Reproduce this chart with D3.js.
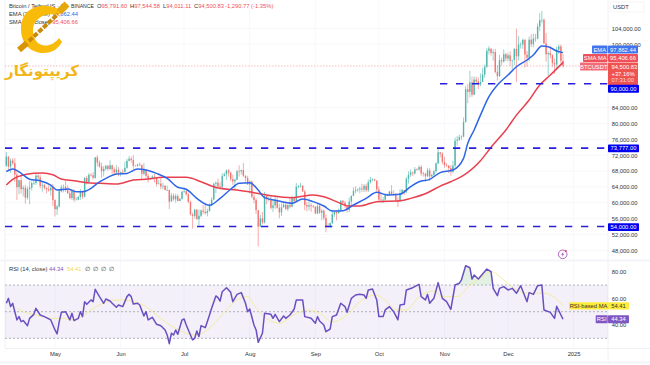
<!DOCTYPE html>
<html>
<head>
<meta charset="utf-8">
<script src="https://cdnjs.cloudflare.com/ajax/libs/d3/7.8.5/d3.min.js"></script>
<style>
  html, body { margin: 0; padding: 0; background: #fff; overflow: hidden; }
  text { font-family: "Liberation Sans", Arial, sans-serif; font-size: 5.8px; fill: #333; }
</style>
</head>
<body>
<div id="chart"></div>
<script>
// daily candles, 8 Apr 2024 to 27 Dec 2024
const firstDay = new Date(Date.UTC(2024, 3, 8));
const firstOpen = 69360;
const closes = [
  71620,69146,70631,70006,67116,63924,65661,63419,63793,61277,63470,63818,64941,64960,66837,66407,64276,64481,63755,63419,63113,63842,60672,
  58364,59060,62882,63892,64031,63161,62334,61187,63049,60792,60793,61448,62901,61553,66256,65231,67051,66940,66278,71446,70148,69166,67969,68549,69290,68507,69436,68398,67652,68353,67540,
  67766,67765,68804,70567,71082,70757,69355,69310,69648,69540,67314,68263,66773,66043,66197,66630,66490,64700,64828,64096,64252,63180,63210,60277,61804,60864,61706,60427,60986,62772,
  62900,62100,60200,57042,56662,58231,55849,56705,58040,57717,57400,57900,59230,60800,64780,65040,64100,63970,66700,67150,68165,67570,65925,65370,65800,67910,67900,68250,66800,66200,64620,
  65350,61500,60700,58160,53990,56040,55030,61700,60880,60940,58710,59350,60600,58730,57560,58880,59480,58430,59440,59000,61160,60380,64040,64170,64250,62830,59420,59030,59370,59120,58970,
  57300,59130,57480,57970,56160,53950,54160,54880,57050,57650,57340,58130,60500,60000,59130,58210,60310,61760,62950,63200,63350,63580,63340,64260,63150,65180,65770,65860,65600,63330,
  60800,60650,60750,62080,62060,62820,62220,62130,60580,60270,62450,63200,62850,66050,67040,67610,67400,68420,68370,69000,67370,67360,66660,68160,66640,67010,67930,69900,72730,72340,70290,
  69480,69350,68770,67800,69350,75640,75900,76540,76700,80370,88650,87950,90375,87250,91060,90580,89850,90460,92310,94290,98350,98900,97780,98010,93000,91950,95960,95640,97460,96400,
  97180,95840,96000,98770,96960,99870,99920,101110,97350,96600,101130,100000,101420,101420,104450,106050,106140,100200,97460,97760,97220,95190,94880,98660,99430,95790,94500
];
const highs = [
  72797,71758,71172,71227,71256,67931,65840,66867,64365,64486,64117,65450,65419,65700,67232,67200,67075,65275,64792,63900,64360,64228,64734,
  60851,59462,63333,64494,64610,65500,64390,62986,63404,63469,61490,61818,63450,63099,66444,66800,67451,67400,67700,71515,71980,70666,70096,69250,69562,69562,70687,69591,68935,69500,69036,
  67860,68450,70288,71063,71758,71625,71997,69520,69850,70150,69560,69999,68450,67300,66400,66950,67298,66500,65700,66482,65050,64500,64350,63370,62430,62350,62290,62200,61220,63000,
  63861,63300,62480,60500,57500,58470,58370,58270,58300,59470,59650,58500,59850,61400,65000,65380,66130,65100,67450,67650,68370,68480,67800,67100,66100,68300,69400,68300,70000,66900,66800,
  65600,65600,62150,61100,55000,57000,57700,62750,61750,61450,61800,60700,61800,61600,59800,59800,60250,60300,59600,61400,61800,61400,64950,64500,65000,64480,63200,60200,61100,59900,59450,
  59100,59800,59800,58500,58330,57000,54850,55000,58100,58000,58000,58600,60650,60670,60400,59200,61300,61800,63850,64130,63560,63990,64750,64700,64800,65840,66500,66200,66080,65600,
  64100,62400,61450,62350,62350,63000,64450,63200,62500,61300,63400,63500,63100,66500,67900,68400,67900,69000,68700,69400,69500,67800,67450,68800,68750,67300,68300,70200,73600,72700,72700,
  71600,70000,69500,69500,70570,76400,76850,77200,77000,81500,89500,89950,93300,91800,91850,91800,91600,92600,94000,94900,99000,99500,98700,98700,98800,94700,97300,96600,98700,97800,
  97800,98200,96100,99000,103900,102000,100500,101400,101200,98300,101900,102500,102650,102600,105250,107800,108350,106500,102800,98200,99500,97400,96400,99400,99900,99900,97544
];
const lows = [
  69043,68210,67518,69550,65254,60660,62134,62274,61600,59768,60803,59600,63090,64500,64500,65800,63589,62783,63297,62400,62800,61765,59191,
  56552,56938,58811,62583,62600,62700,62280,60877,60648,60187,60610,60630,60750,60950,61330,64600,65106,66600,65857,66060,69162,68832,66312,66600,68128,68128,68250,67277,67124,67128,66670,
  66670,67300,67600,68570,70400,70120,68420,69200,69130,69230,66051,66900,66300,65078,65900,66020,65130,64100,64650,63400,63400,63200,63000,58402,60650,60500,60060,60400,60400,60770,
  62500,61800,59900,56771,53485,56020,55724,54260,56300,57100,57000,56560,57800,59400,60600,62400,63900,63300,63300,66700,65800,66570,65400,64500,63400,65700,66600,67050,66500,65300,64500,
  62300,61100,59850,57150,49000,53900,54560,54750,59600,60300,58300,57650,58500,58500,56100,56650,58750,58150,57870,58600,58850,59800,60350,63600,63800,62800,58100,57850,58100,57700,58700,
  57200,57100,57200,55600,55600,52550,53750,53650,54600,56400,55550,57300,57650,59500,58700,57500,57600,59200,61600,62360,62750,62400,62700,62700,62700,62700,64800,65400,65430,62900,
  60200,60000,59900,60450,61650,61800,62100,61850,60300,58900,60400,62400,62000,62450,64800,66500,66750,67100,68100,68100,66800,66600,65300,66500,65500,66500,66800,67600,69700,71400,69700,
  68800,69050,67500,66800,67450,68800,74400,75550,75800,76500,80200,85100,86600,86700,87100,90100,88700,89400,90900,91500,94000,97400,97100,95800,92600,90800,91700,94600,95300,95700,
  95700,94500,93600,94700,90500,95900,98900,98800,94100,94300,95700,99300,99200,100600,101200,103300,105300,100000,95600,92100,96400,94200,92500,93400,97500,95200,94011
];

// moving averages at these day numbers (0 = 8 Apr)
const emaDays = [0,3,7,11,16,21,24,29,33,36,40,43,48,52,57,62,65,71,76,81,85,90,96,101,106,110,115,119,122,128,135,140,145,150,154,159,164,170,175,180,186,191,195,200,205,211,216,218,221,224,228,232,237,241,246,249,253,256,260,263];
const emaValues = [67826,68500,67420,65900,65550,64470,63210,63460,62780,62780,63640,64900,66400,67250,67400,68500,68400,67400,66150,63900,63400,61100,59350,61100,63400,64900,65050,63200,61270,60500,59850,60950,60270,59170,57900,58000,59420,61100,62630,61950,62130,64050,65300,65900,67600,68250,71200,75000,78350,82100,86750,89700,92200,94300,96000,97260,99530,99360,98270,97862];
const smaDays = [0,3,8,13,17,22,26,32,38,44,52,60,67,74,85,92,98,101,109,117,125,135,145,150,156,162,167,175,186,191,199,205,210,215,224,229,236,241,247,252,257,263];
const smaValues = [64470,65900,66990,67420,67500,67070,65980,65550,65050,64900,64720,65730,65980,66400,66400,65300,64050,63640,63200,62530,61770,61270,61950,61520,60270,59150,59170,60270,60500,61100,62530,64200,65300,66570,70600,74000,78350,82100,85900,89700,92200,95406];

// RSI pane
const rsiDays = [0,1,2,3,5,6,7,8,10,11,13,14,16,18,21,23,24,25,26,28,29,30,31,32,34,35,36,37,38,40,41,42,44,46,47,49,50,52,53,55,57,58,59,60,62,63,65,66,67,69,71,73,75,76,77,78,79,80,81,83,84,85,88,89,90,91,92,94,96,97,99,100,101,102,104,106,107,109,111,113,114,115,117,118,119,121,122,125,126,127,129,131,132,134,136,137,140,141,144,146,147,148,150,151,153,154,156,158,160,161,163,165,167,169,170,171,173,175,176,178,179,181,183,185,186,188,189,192,195,196,198,199,200,202,204,206,208,210,212,214,215,217,219,220,221,223,227,229,230,232,233,235,237,239,241,243,246,247,249,251,253,254,257,259,260,263];
const rsiValues = [56.3,60,53.8,56.3,43.8,46.3,42.5,43.3,39.5,45,48,52.5,47.5,46.3,43.8,36.3,33.3,42.5,49.5,50,47,43.8,48.8,43.3,45,50,46.3,57.5,55.5,58.8,57.5,66.8,61.3,56.3,59.5,58,56.3,53.3,55,53.8,61.3,63,61.3,55.8,56.3,55,46.8,50,43.8,45.8,40.5,39.5,36.3,32.5,26,33.8,32.5,36.3,33,43.8,44.5,40,28.8,30,35.5,31.3,39.5,38,47.5,52.5,61.8,60.5,58,65,68,64.5,57.5,63,64.3,56.3,50,52,40,36.3,27,33.8,48.8,48,45,48,42.5,46.8,45,47.5,52,58.8,58.8,46.3,45,41.3,46.3,43,40,35,37,46.3,47.5,56.3,53.8,49.5,60,62.5,63,62.5,60,66.3,67,58.8,46.3,46.3,51.3,53.8,50,43.8,55,55.5,66.3,68,70.5,61.3,58.8,63,56.3,60,71.8,60,57.5,51.8,70,71.3,73.8,84.5,83,74.5,77.5,74.5,82,80,67.5,62,67.5,68.8,66.3,67.5,63.8,69.5,57.5,64.3,63,69.5,70,51.3,49.5,45,54,44.34];
const rsiMaDays = [5,10,13,17,22,27,31,36,40,44,49,54,60,66,71,76,80,85,90,95,99,104,109,114,118,121,129,136,142,148,154,161,167,174,180,184,189,195,202,206,213,219,224,229,235,241,247,254,262,263];
const rsiMaValues = [52.5,48.8,48,46.3,45,45,43.8,46.3,51.3,55,58,58.8,57.5,53.8,47.5,41.3,37.5,33.8,32.5,36.3,42.5,51.3,58.8,61.3,52.5,47.5,41.3,47.5,51.3,48.8,42.5,47.5,57.5,62.5,57.5,51.3,51.3,61.3,65.5,61.3,61.3,70,75,80,73.8,66.3,63.8,63.8,56.3,54.41];

// 96k, 92k and 88k sit behind the price tags in the reference
const priceTicks = [104000,100000,84000,80000,76000,72000,68000,64000,60000,56000,52000,48000];
const rsiTicks = [80,60,40];
const monthTicks = [[2024,4],[2024,5],[2024,6],[2024,7],[2024,8],[2024,9],[2024,10],[2024,11],[2025,0]];
const levels = [90000,73777,54000];

const width = 650, height = 365;
const paneLeft = 5, paneRight = 608;

const svg = d3.select("#chart").append("svg")
  .attr("width", width)
  .attr("height", height)
  .style("display", "block");

const x = d3.scaleUtc()
  .domain([new Date(Date.UTC(2024, 4, 1)), new Date(Date.UTC(2025, 0, 1))])
  .range([55, 573.6]);
const y = d3.scaleLinear().domain([48000, 104000]).range([250.3, 28.3]);
const rsiY = d3.scaleLinear().domain([40, 80]).range([325, 271.7]);

const dayX = (i) => x(d3.utcDay.offset(firstDay, i));

const candles = closes.map((c, i) => ({
  day: i,
  open: i === 0 ? firstOpen : closes[i - 1],
  close: c,
  high: highs[i],
  low: lows[i],
}));

// grid and pane frames
const grid = svg.append("g").attr("stroke", "#f7f8fb").attr("stroke-width", 1);
priceTicks.forEach((t) => {
  grid.append("line").attr("x1", paneLeft).attr("x2", paneRight).attr("y1", y(t)).attr("y2", y(t));
});
monthTicks.forEach((m) => {
  const mx = x(new Date(Date.UTC(m[0], m[1], 1)));
  grid.append("line").attr("x1", mx).attr("x2", mx).attr("y1", 0).attr("y2", 348);
});
const frame = svg.append("g").attr("stroke", "#eff0f4").attr("stroke-width", 1);
frame.append("line").attr("x1", paneLeft).attr("x2", paneLeft).attr("y1", 0).attr("y2", 348);
frame.append("line").attr("x1", paneRight).attr("x2", paneRight).attr("y1", 0).attr("y2", 362);
frame.append("line").attr("x1", 0).attr("x2", width).attr("y1", 260.5).attr("y2", 260.5).attr("stroke-width", 2).attr("stroke", "#f3f4f7");
frame.append("line").attr("x1", paneLeft).attr("x2", width).attr("y1", 348.5).attr("y2", 348.5);
frame.append("line").attr("x1", 0).attr("x2", width).attr("y1", 362.5).attr("y2", 362.5).attr("stroke-width", 2).attr("stroke", "#f3f4f7");

// current price line
svg.append("line")
  .attr("x1", paneLeft).attr("x2", paneRight)
  .attr("y1", y(94500)).attr("y2", y(94500))
  .attr("stroke", "#f4a0a5").attr("stroke-width", 0.7).attr("stroke-dasharray", "1.5,1.5");

// candles
const candleG = svg.append("g").selectAll("g").data(candles).join("g")
  .attr("opacity", 0.8);
candleG.append("line")
  .attr("x1", (d) => dayX(d.day)).attr("x2", (d) => dayX(d.day))
  .attr("y1", (d) => y(d.high)).attr("y2", (d) => y(d.low))
  .attr("stroke-width", 0.6)
  .attr("stroke", (d) => (d.close >= d.open ? "#26a69a" : "#ef5350"));
candleG.append("rect")
  .attr("x", (d) => dayX(d.day) - 0.7)
  .attr("width", 1.4)
  .attr("y", (d) => y(Math.max(d.open, d.close)))
  .attr("height", (d) => Math.max(0.6, Math.abs(y(d.open) - y(d.close))))
  .attr("fill", (d) => (d.close >= d.open ? "#26a69a" : "#ef5350"));

// EMA and SMA
const priceLine = (days, values) =>
  d3.line().x((d, i) => dayX(days[i])).y((d) => y(d)).curve(d3.curveMonotoneX)(values);
svg.append("path").attr("d", priceLine(smaDays, smaValues))
  .attr("fill", "none").attr("stroke", "#e8404e").attr("stroke-width", 1.5);
svg.append("path").attr("d", priceLine(emaDays, emaValues))
  .attr("fill", "none").attr("stroke", "#2f66e8").attr("stroke-width", 1.5);

// support and resistance levels
svg.append("g").selectAll("line").data(levels).join("line")
  .attr("x1", (d) => (d === 90000 ? 440 : paneLeft))
  .attr("x2", paneRight)
  .attr("y1", (d) => y(d)).attr("y2", (d) => y(d))
  .attr("stroke", "#2a1fd8").attr("stroke-width", 1.6).attr("stroke-dasharray", "7.3,8.7");

// rsi pane
svg.append("rect")
  .attr("x", paneLeft).attr("width", paneRight - paneLeft)
  .attr("y", rsiY(70)).attr("height", rsiY(30) - rsiY(70))
  .attr("fill", "#7e57c2").attr("opacity", 0.09);
svg.append("g").selectAll("line").data([70, 50, 30]).join("line")
  .attr("x1", paneLeft).attr("x2", paneRight)
  .attr("y1", (d) => rsiY(d)).attr("y2", (d) => rsiY(d))
  .attr("stroke", "#9598a1").attr("stroke-width", 0.7).attr("stroke-dasharray", "2,2");

const defs = svg.append("defs");
defs.append("clipPath").attr("id", "overbought").append("rect")
  .attr("x", paneLeft).attr("width", paneRight - paneLeft).attr("y", 261).attr("height", rsiY(70) - 261);
defs.append("clipPath").attr("id", "oversold").append("rect")
  .attr("x", paneLeft).attr("width", paneRight - paneLeft).attr("y", rsiY(30)).attr("height", 348 - rsiY(30));
const rsiArea = (level) =>
  d3.area().x((d, i) => dayX(rsiDays[i])).y0(rsiY(level)).y1((d) => rsiY(d))(rsiValues);
svg.append("path").attr("d", rsiArea(70)).attr("clip-path", "url(#overbought)")
  .attr("fill", "#8bc98e").attr("opacity", 0.25);
svg.append("path").attr("d", rsiArea(30)).attr("clip-path", "url(#oversold)")
  .attr("fill", "#ef5350").attr("opacity", 0.12);

svg.append("path")
  .attr("d", d3.line().x((d, i) => dayX(rsiMaDays[i])).y((d) => rsiY(d)).curve(d3.curveMonotoneX)(rsiMaValues))
  .attr("fill", "none").attr("stroke", "#f5ea96").attr("stroke-width", 0.9);
svg.append("path")
  .attr("d", d3.line().x((d, i) => dayX(rsiDays[i])).y((d) => rsiY(d))(rsiValues))
  .attr("fill", "none").attr("stroke", "#6a4fc0").attr("stroke-width", 1.5).attr("stroke-linejoin", "round");

// axes
const yAxis = svg.append("g").attr("transform", `translate(${paneRight},0)`)
  .call(d3.axisRight(y).tickValues(priceTicks).tickSize(0).tickPadding(3.7).tickFormat(d3.format(",.2f")));
yAxis.select(".domain").remove();
const rsiAxis = svg.append("g").attr("transform", `translate(${paneRight},0)`)
  .call(d3.axisRight(rsiY).tickValues(rsiTicks).tickSize(0).tickPadding(3.7).tickFormat(d3.format(".2f")));
rsiAxis.select(".domain").remove();
const xAxis = svg.append("g").attr("transform", "translate(0,348)")
  .call(d3.axisBottom(x)
    .tickValues(monthTicks.map((m) => new Date(Date.UTC(m[0], m[1], 1))))
    .tickSize(0).tickPadding(4)
    .tickFormat((d) => (d.getUTCMonth() === 0 ? "2025" : d3.utcFormat("%b")(d))));
xAxis.select(".domain").remove();
svg.selectAll(".tick text").style("font-size", "5.8px").style("font-family", '"Liberation Sans", Arial, sans-serif').attr("fill", "#333");

// price scale labels
function tag(x0, x1, y0, y1, color, label, textColor) {
  svg.append("rect").attr("x", x0).attr("y", y0).attr("width", x1 - x0).attr("height", y1 - y0)
    .attr("rx", 0.8).attr("fill", color);
  if (label) {
    svg.append("text").attr("x", (x0 + x1) / 2).attr("y", (y0 + y1) / 2 + 2)
      .attr("text-anchor", "middle").style("fill", textColor || "#fff").text(label);
  }
}

svg.append("rect").attr("x", 610).attr("y", 2).attr("width", 34).attr("height", 10)
  .attr("fill", "#fff").attr("stroke", "#f0f1f4").attr("stroke-width", 0.7);
svg.append("text").attr("x", 613).attr("y", 9).text("USDT");

tag(580, 607.5, 62.5, 70.5, "#f26a73", "BTCUSDT");
tag(608, 638, 62.5, 85, "#ef5350");
svg.append("text").attr("x", 611.5).attr("y", 68.8).style("fill", "#fff").text("94,500.83");
svg.append("text").attr("x", 611.5).attr("y", 75.5).style("fill", "#fff").text("+37.16%");
svg.append("text").attr("x", 611.5).attr("y", 82.2).style("fill", "#ffd9db").text("07:31:00");
tag(583, 607.5, 54, 62, "#f0505c", "SMA:MA");
tag(608, 638, 54, 62, "#f0505c", "95,406.66");
tag(592, 607.5, 45.5, 53.5, "#3f74ee", "EMA");
tag(608, 638, 45.5, 53.5, "#3f74ee", "97,862.44");

tag(608, 639, 84.7, 92.7, "#0000f0", "90,000.00");
tag(608, 639, y(73777) - 3.6, y(73777) + 4.2, "#0000f0", "73,777.00");
tag(608, 639, y(54000) - 3.2, y(54000) + 4.6, "#0000f0", "54,000.00");

tag(569, 608, 302.3, 309.5, "#ffeb3b", "RSI-based MA", "#333");
tag(608, 629, 302.3, 309.5, "#ffeb3b", "54.41", "#333");
tag(595.7, 607.7, 315.3, 323.3, "#7e57c2", "RSI");
tag(608, 629, 315.3, 323.3, "#7e57c2", "44.34");

// legend rows
const red = "#f0505c", blue = "#2f66e8";
svg.append("text").attr("x", 9).attr("y", 7.8).text("Bitcoin / TetherUS · 1D");
svg.append("text").attr("x", 71).attr("y", 7.8).style("font-size", "5.2px").text("BINANCE");
[["O", "95,791.60", 97], ["H", "97,544.58", 130], ["L", "94,011.11", 163], ["C", "94,500.83", 194]].forEach((d) => {
  const t = svg.append("text").attr("x", d[2]).attr("y", 7.8);
  t.append("tspan").text(d[0]);
  t.append("tspan").style("fill", red).text(d[1]);
});
svg.append("text").attr("x", 225).attr("y", 7.8).style("fill", red).text("-1,290.77 (-1.35%)");
svg.append("text").attr("x", 9).attr("y", 16).text("EMA (20, close)");
svg.append("text").attr("x", 78).attr("y", 16).attr("text-anchor", "end").style("fill", blue).text("97,862.44");
svg.append("text").attr("x", 9).attr("y", 24.3).text("SMA (50, close)");
svg.append("text").attr("x", 78).attr("y", 24.3).attr("text-anchor", "end").style("fill", red).text("95,406.66");

const rsiLegend = svg.append("text").attr("x", 9).attr("y", 270.8);
rsiLegend.append("tspan").text("RSI (14, close)");
rsiLegend.append("tspan").attr("x", 49).style("fill", "#7e57c2").text("44.34");
rsiLegend.append("tspan").attr("x", 67).style("fill", "#f2dc4a").text("54.41");
rsiLegend.append("tspan").attr("x", 85).text("∅");
rsiLegend.append("tspan").attr("x", 93).text("∅");
rsiLegend.append("tspan").attr("x", 101).text("∅");
rsiLegend.append("tspan").attr("x", 108.5).text("∅");

// flash icon above the rsi pane
const flash = svg.append("g").attr("transform", `translate(562.7,254.3)`);
flash.append("circle").attr("r", 4.3).attr("fill", "#fff").attr("stroke", "#a855b8").attr("stroke-width", 0.9);
flash.append("path").attr("d", "M0.8,-2.6 L-1.6,0.4 L-0.1,0.4 L-0.8,2.6 L1.6,-0.5 L0.1,-0.5 Z").attr("fill", "#a855b8");
flash.append("circle").attr("cx", 3).attr("cy", -3.2).attr("r", 1.1).attr("fill", "#e8404e");

// logo on top of the legend
const logo = svg.append("g");
logo.append("path")
  .attr("d", "M62,12 C52,2 21,2 21,29 C21,45 32,53 44,53 C52,53 58,49 62,42 L59,38 C50,50 33,48 33,30 C33,18 46,12 58,15 Z")
  .attr("fill", "#f9bb0a");
logo.append("line").attr("x1", 19).attr("y1", 50).attr("x2", 27).attr("y2", 43)
  .attr("stroke", "#d8950a").attr("stroke-width", 6);
logo.append("line").attr("x1", 29).attr("y1", 41).attr("x2", 58).attr("y2", 14)
  .attr("stroke", "#c98a0c").attr("stroke-width", 4).attr("stroke-dasharray", "5,1.5");
logo.append("line").attr("x1", 59).attr("y1", 12).attr("x2", 67).attr("y2", 4)
  .attr("stroke", "#e6a70c").attr("stroke-width", 7);
logo.append("text").attr("x", 42).attr("y", 76).attr("text-anchor", "middle")
  .style("font-family", '"DejaVu Sans", sans-serif').style("font-size", "15px").style("font-weight", "bold")
  .style("fill", "#f2b618").text("کریپتونگار");
</script>
</body>
</html>
